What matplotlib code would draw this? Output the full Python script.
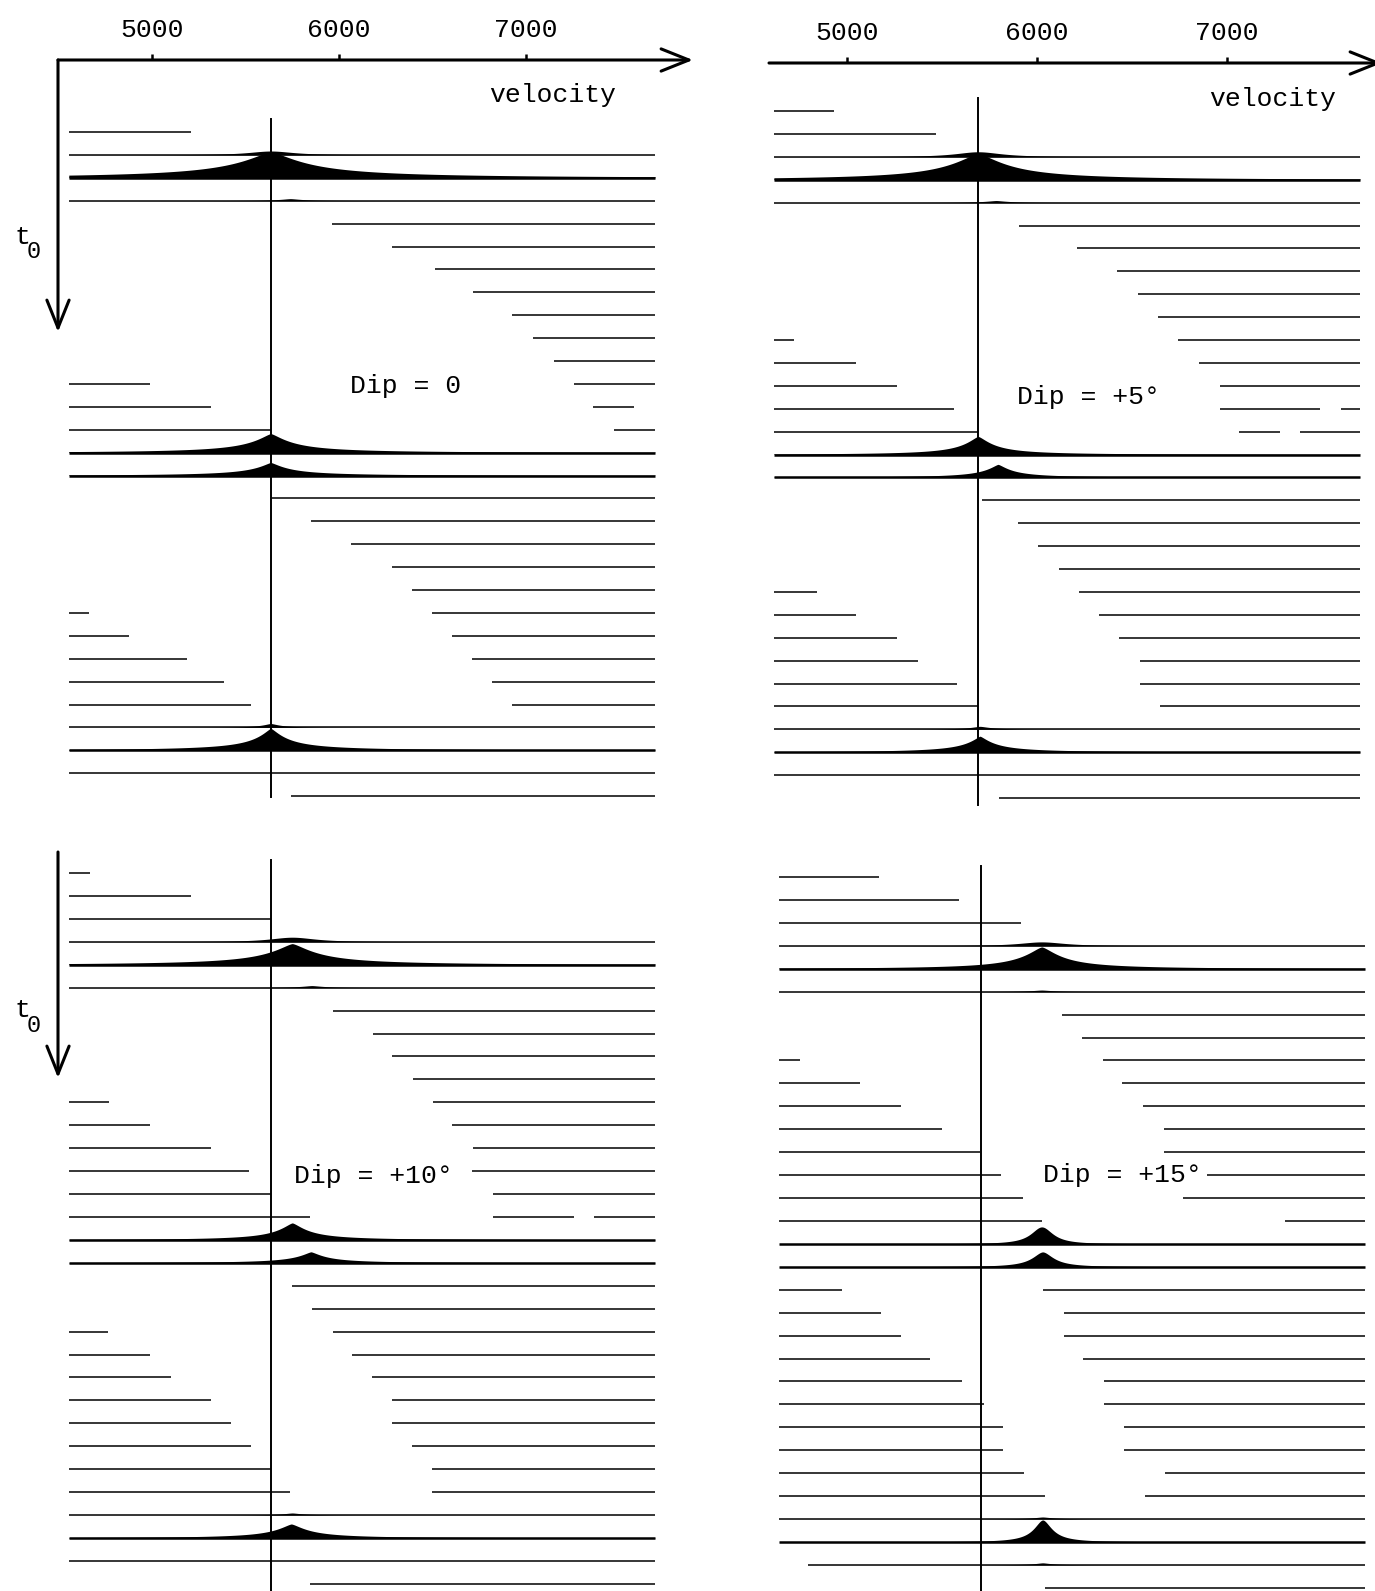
import numpy as np
import matplotlib.pyplot as plt
from matplotlib.patches import FancyArrowPatch

plt.rcParams['font.family'] = ['Liberation Mono', 'DejaVu Sans Mono']

W, H = 1375, 1591

# ---------------- data (velocity in m/s, one list entry per t0 trace) ----------------
# Dip = 0
tl_rows = [
    [(4555, 5210)], [(4555, 7690)], [(4555, 7690)], [(4555, 7690)],
    [(5960, 7690)], [(6285, 7690)], [(6515, 7690)], [(6715, 7690)],
    [(6925, 7690)], [(7040, 7690)], [(7150, 7690)],
    [(4555, 4990), (7255, 7690)], [(4555, 5315), (7360, 7580)],
    [(4555, 5635), (7470, 7690)],
    [(4555, 7690)], [(4555, 7690)],
    [(5640, 7690)], [(5850, 7690)], [(6065, 7690)], [(6285, 7690)], [(6390, 7690)],
    [(4555, 4665), (6495, 7690)], [(4555, 4875), (6605, 7690)],
    [(4555, 5185), (6710, 7690)], [(4555, 5385), (6820, 7690)],
    [(4555, 5530), (6925, 7690)],
    [(4555, 7690)], [(4555, 7690)], [(4555, 7690)], [(5745, 7690)],
]
# (trace, peak velocity, amplitude in trace spacings, width, shape)
tl_peaks = [(1, 5635, 0.17, 150, 2.0), (2, 5635, 1.14, 230, 1.4), (3, 5740, 0.09, 80, 1.5),
            (14, 5635, 0.83, 130, 1.35), (15, 5635, 0.57, 110, 1.3),
            (26, 5635, 0.17, 60, 1.5), (27, 5635, 0.96, 100, 1.3)]
tl_pick = 5635

# Dip = +5
tr_rows = [
    [(4615, 4930)], [(4615, 5470)], [(4615, 7700)], [(4615, 7700)], [(4615, 7700)],
    [(5905, 7700)], [(6210, 7700)], [(6420, 7700)], [(6530, 7700)], [(6635, 7700)],
    [(4615, 4720), (6740, 7700)], [(4615, 5045), (6855, 7700)],
    [(4615, 5265), (6965, 7700)], [(4615, 5565), (6965, 7490), (7600, 7700)],
    [(4615, 5690), (7065, 7280), (7385, 7700)],
    [(4615, 7700)], [(4615, 7700)],
    [(5710, 7700)], [(5900, 7700)], [(6005, 7700)], [(6115, 7700)],
    [(4615, 4840), (6220, 7700)], [(4615, 5050), (6325, 7700)],
    [(4615, 5265), (6430, 7700)], [(4615, 5375), (6540, 7700)],
    [(4615, 5580), (6540, 7700)], [(4615, 5690), (6645, 7700)],
    [(4615, 7700)], [(4615, 7700)], [(4615, 7700)], [(5800, 7700)],
]
tr_peaks = [(2, 5690, 0.22, 150, 2.0), (3, 5690, 1.14, 190, 1.45), (4, 5785, 0.09, 80, 1.5),
            (15, 5690, 0.79, 95, 1.4), (16, 5795, 0.57, 85, 1.35),
            (27, 5700, 0.13, 70, 1.5), (28, 5700, 0.70, 90, 1.3)]
tr_pick = 5690

# Dip = +10
bl_rows = [
    [(4555, 4670)], [(4555, 5210)], [(4555, 5635)],
    [(4555, 7690)], [(4555, 7690)], [(4555, 7690)],
    [(5970, 7690)], [(6180, 7690)], [(6285, 7690)], [(6395, 7690)],
    [(4555, 4770), (6500, 7690)], [(4555, 4990), (6605, 7690)],
    [(4555, 5315), (6715, 7690)], [(4555, 5520), (6710, 7690)],
    [(4555, 5635), (6825, 7690)], [(4555, 5845), (6825, 7255), (7365, 7690)],
    [(4555, 7690)], [(4555, 7690)],
    [(5750, 7690)], [(5855, 7690)],
    [(4555, 4765), (5970, 7690)], [(4555, 4990), (6070, 7690)],
    [(4555, 5100), (6175, 7690)], [(4555, 5315), (6285, 7690)],
    [(4555, 5420), (6285, 7690)], [(4555, 5530), (6390, 7690)],
    [(4555, 5635), (6495, 7690)], [(4555, 5740), (6495, 7690)],
    [(4555, 7690)], [(4555, 7690)], [(4555, 7690)], [(5845, 7690)],
]
bl_peaks = [(3, 5750, 0.20, 150, 2.0), (4, 5750, 0.92, 160, 1.4), (5, 5855, 0.09, 80, 1.5),
            (16, 5750, 0.74, 100, 1.4), (17, 5850, 0.48, 95, 1.35),
            (28, 5750, 0.09, 70, 1.5), (29, 5745, 0.61, 110, 1.4)]
bl_pick = 5635

# Dip = +15
br_rows = [
    [(4640, 5170)], [(4640, 5590)], [(4640, 5915)],
    [(4640, 7725)], [(4640, 7725)], [(4640, 7725)],
    [(6130, 7725)], [(6235, 7725)],
    [(4640, 4755), (6345, 7725)], [(4640, 5070), (6445, 7725)],
    [(4640, 5285), (6560, 7725)], [(4640, 5500), (6670, 7725)],
    [(4640, 5700), (6670, 7725)], [(4640, 5810), (6895, 7725)],
    [(4640, 5925), (6770, 7725)], [(4640, 6025), (7305, 7725)],
    [(4640, 7725)], [(4640, 7725)],
    [(4640, 4975), (6030, 7725)], [(4640, 5180), (6140, 7725)],
    [(4640, 5285), (6140, 7725)], [(4640, 5435), (6240, 7725)],
    [(4640, 5605), (6355, 7725)], [(4640, 5720), (6355, 7725)],
    [(4640, 5820), (6460, 7725)], [(4640, 5820), (6460, 7725)],
    [(4640, 5930), (6675, 7725)], [(4640, 6040), (6570, 7725)],
    [(4640, 7725)], [(4640, 7725)], [(4795, 7725)], [(6040, 7725)],
]
br_peaks = [(3, 6025, 0.17, 150, 2.0), (4, 6025, 0.95, 125, 1.45), (5, 6025, 0.07, 80, 1.5),
            (16, 6025, 0.74, 70, 2.0), (17, 6030, 0.65, 70, 1.8),
            (28, 6030, 0.09, 70, 1.5), (29, 6030, 0.96, 60, 1.8), (30, 6030, 0.09, 60, 1.5)]
br_pick = 5705

ticks = [5000, 6000, 7000]


fig = plt.figure(figsize=(W / 100, H / 100), dpi=100)


def fpx(x, y):
    return x / W, 1 - y / H


def make_panel(box, vcal, rcal):
    # box in pixels, vcal = (pixel of 5000, pixels per 1000), rcal = (pixel of trace 0, spacing)
    x0, y0, x1, y1 = box
    ax = fig.add_axes([x0 / W, 1 - y1 / H, (x1 - x0) / W, (y1 - y0) / H])
    p5, s = vcal
    r0, dr = rcal
    ax.set_xlim(5000 + (x0 - p5) * 1000 / s, 5000 + (x1 - p5) * 1000 / s)
    ax.set_ylim((y1 - r0) / dr, (y0 - r0) / dr)
    for sp in ax.spines.values():
        sp.set_visible(False)
    ax.set_yticks([])
    ax.set_xticks([])
    ax.patch.set_alpha(0)
    return ax


def draw_traces(ax, rows, peaks, pick, pick_span):
    big = {p[0] for p in peaks if p[2] > 0.3}
    for r, segs in enumerate(rows):
        for a, b in segs:
            ax.plot([a, b], [r, r], color='k', lw=1.8 if r in big else 1.1,
                    solid_capstyle='butt')
    for r, vc, amp, w, q in peaks:
        a = min(s[0] for s in rows[r])
        b = max(s[1] for s in rows[r])
        v = np.linspace(a, b, 1500)
        y = amp / (1 + (np.abs(v - vc) / w) ** q)
        ax.fill_between(v, r, r - y, color='k', lw=0)
    ax.plot([pick, pick], pick_span, color='k', lw=1.4)


tl = make_panel((58, 60, 693, 815), (152, 187), (132, 22.9))
tr = make_panel((769, 63, 1375, 815), (847, 190), (111, 22.9))
bl = make_panel((58, 850, 693, 1591), (152, 187), (873, 22.93))
br = make_panel((769, 860, 1375, 1591), (847, 190), (877, 22.93))

draw_traces(tl, tl_rows, tl_peaks, tl_pick, (-0.57, 29.04))
draw_traces(tr, tr_rows, tr_peaks, tr_pick, (-0.57, 30.3))
draw_traces(bl, bl_rows, bl_peaks, bl_pick, (-0.57, 32.0))
draw_traces(br, br_rows, br_peaks, br_pick, (-0.48, 32.0))

# velocity axes on top
for ax in (tl, tr):
    ax.xaxis.tick_top()
    ax.set_xticks(ticks)
    ax.set_xticklabels([str(t) for t in ticks])
    ax.tick_params(axis='x', direction='out', length=4.5, width=1.8, labelsize=19, pad=8.5)

arrow = dict(arrowstyle='->,head_length=1.0,head_width=0.4', lw=2.2, color='k',
             mutation_scale=20, shrinkA=0, shrinkB=0, transform=fig.transFigure)
fig.add_artist(FancyArrowPatch(fpx(58, 60), fpx(693, 60), **arrow))
fig.add_artist(FancyArrowPatch(fpx(58, 60), fpx(58, 332), **arrow))
fig.add_artist(FancyArrowPatch(fpx(769, 63), fpx(1382, 63), **arrow))
fig.add_artist(FancyArrowPatch(fpx(58, 852), fpx(58, 1078), **arrow))

labels = [("velocity", 553, 95), ("Dip = 0", 406, 386),
          ("velocity", 1273, 99), ("Dip = +5°", 1088, 397),
          ("Dip = +10°", 373, 1176), ("Dip = +15°", 1122, 1175)]
for s, x, y in labels:
    fig.text(*fpx(x, y), s, ha='center', va='center', fontsize=19)

for ty in (237, 1010):
    fig.text(*fpx(22, ty), "t", ha='center', va='center', fontsize=19)
    fig.text(*fpx(34, ty + 15), "0", ha='center', va='center', fontsize=17)

fig.savefig("out.png", dpi=100, facecolor='white')
